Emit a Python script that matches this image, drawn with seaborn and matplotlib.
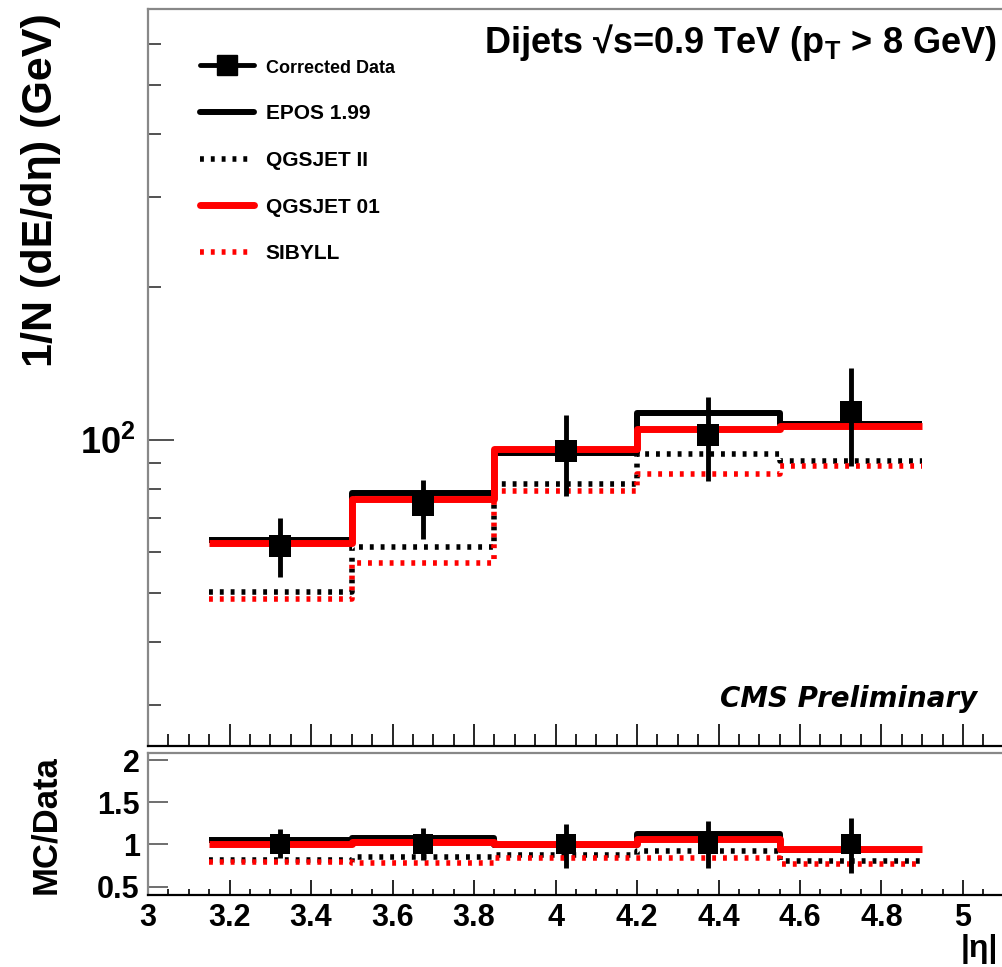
import numpy as np
import pandas as pd
import matplotlib
matplotlib.use("Agg")
import matplotlib.pyplot as plt
import seaborn as sns
from matplotlib.lines import Line2D
from matplotlib.ticker import FixedLocator, NullFormatter, FuncFormatter

# ---------------- data ----------------
bin_edges = [3.15, 3.5, 3.85, 4.2, 4.55, 4.9]
eta_centers = [3.325, 3.675, 4.025, 4.375, 4.725]

data_val = [61.8, 74.3, 95.0, 102.1, 113.5]
data_err_lo = [8.2, 10.6, 17.5, 19.1, 24.8]
data_err_hi = [8.2, 9.2, 17.1, 19.0, 24.8]

epos = [63.6, 78.6, 94.0, 112.7, 107.2]
qgsjet2 = [50.2, 61.5, 82.0, 93.7, 90.9]
qgsjet01 = [62.7, 76.3, 95.7, 105.2, 106.4]
sibyll = [48.7, 57.3, 79.2, 85.8, 88.7]

ratio_data = [1.0, 1.0, 1.0, 1.0, 1.0]
ratio_err_lo = [0.16, 0.18, 0.28, 0.28, 0.34]
ratio_err_hi = [0.18, 0.19, 0.24, 0.28, 0.32]
ratio_epos = [1.05, 1.08, 0.99, 1.13, 0.94]
ratio_qgsjet2 = [0.81, 0.85, 0.88, 0.92, 0.80]
ratio_qgsjet01 = [1.00, 1.03, 1.00, 1.06, 0.95]
ratio_sibyll = [0.79, 0.78, 0.84, 0.84, 0.77]

labels = ["Corrected Data", "EPOS 1.99", "QGSJET II", "QGSJET 01", "SIBYLL"]
xtick_vals = [3.0, 3.2, 3.4, 3.6, 3.8, 4.0, 4.2, 4.4, 4.6, 4.8, 5.0]
ytick_ratio = [0.5, 1.0, 1.5, 2.0]
ytick_main_major = [100]
ytick_main_minor = [30, 40, 50, 60, 70, 80, 90, 200, 300, 400, 500, 600]

# ---------------- style ----------------
sns.set_style("ticks")
plt.rcParams["font.family"] = ["Liberation Sans", "DejaVu Sans"]
plt.rcParams["font.weight"] = "bold"
plt.rcParams["text.color"] = "black"
plt.rcParams["axes.labelcolor"] = "black"
plt.rcParams["xtick.labelcolor"] = "black"
plt.rcParams["ytick.labelcolor"] = "black"
plt.rcParams["mathtext.fontset"] = "custom"
plt.rcParams["mathtext.rm"] = "Liberation Sans:bold"
plt.rcParams["mathtext.bf"] = "Liberation Sans:bold"
plt.rcParams["mathtext.it"] = "Liberation Sans:bold:italic"

W, H = 1002, 967
fig = plt.figure(figsize=(W / 100, H / 100), dpi=100)

def fx(px):
    return px / W

def fy(py):
    return 1 - py / H

left_px, right_px = 148, 1002
ax = fig.add_axes([fx(left_px), fy(745.7), fx(right_px - left_px), (745.7 - 9) / H])
axr = fig.add_axes([fx(left_px), fy(895), fx(right_px - left_px), (895 - 752.7) / H])

XMAX = 3 + (right_px - left_px) / 407.5

DOT = (0, (0.7, 1.25))
styles = [
    dict(color="black", lw=4.3, ls="-"),
    dict(color="black", lw=4.0, ls=DOT),
    dict(color="#ff0000", lw=5.0, ls="-"),
    dict(color="#ff0000", lw=4.0, ls=DOT),
]

def steps(axis, vals, st, z):
    y = list(vals) + [vals[-1]]
    sns.lineplot(x=bin_edges, y=y, ax=axis, drawstyle="steps-post",
                 color=st["color"], linewidth=st["lw"], linestyle=st["ls"],
                 dash_capstyle="butt", solid_capstyle="butt", zorder=z,
                 sort=False, estimator=None, legend=False)

# ---------------- main panel ----------------
ax.set_yscale("log")
for i, (vals, st) in enumerate(zip([epos, qgsjet2, qgsjet01, sibyll], styles)):
    steps(ax, vals, st, 2 + i)
ax.errorbar(eta_centers, data_val, yerr=[data_err_lo, data_err_hi], fmt="none",
            ecolor="black", elinewidth=3.5, capsize=0, zorder=8)
sns.scatterplot(x=eta_centers, y=data_val, ax=ax, marker="s", s=250, color="black",
                linewidth=0, zorder=9, legend=False)

ax.set_xlim(3, XMAX)
ax.set_ylim(25, 704)
ax.yaxis.set_major_locator(FixedLocator(ytick_main_major))
ax.yaxis.set_minor_locator(FixedLocator(ytick_main_minor))
ax.yaxis.set_major_formatter(FuncFormatter(lambda v, p: r"$\mathrm{10^{2}}$"))
ax.yaxis.set_minor_formatter(NullFormatter())
ax.xaxis.set_major_locator(FixedLocator(xtick_vals))
ax.xaxis.set_minor_locator(FixedLocator(np.arange(3.0, 5.1, 0.05)))
ax.tick_params(axis="x", which="both", direction="in", bottom=True, top=False,
               labelbottom=False, color="black", width=1.2)
ax.tick_params(axis="x", which="major", length=15.8)
ax.tick_params(axis="x", which="minor", length=8.6)
ax.tick_params(axis="y", which="both", direction="in", left=True, right=False,
               color="#333333", width=1.2, labelsize=26, pad=9)
ax.tick_params(axis="y", which="major", length=18.7)
ax.tick_params(axis="y", which="minor", length=9.4)
ax.set_xlabel("")
ax.set_ylabel("")
for s in ["left", "top"]:
    ax.spines[s].set_color("#888888")
    ax.spines[s].set_linewidth(1.6)
ax.spines["bottom"].set_color("black")
ax.spines["bottom"].set_linewidth(1.6)
ax.spines["right"].set_visible(False)

# ---------------- ratio panel ----------------
for i, (vals, st) in enumerate(zip([ratio_epos, ratio_qgsjet2, ratio_qgsjet01, ratio_sibyll], styles)):
    steps(axr, vals, st, 2 + i)
axr.errorbar(eta_centers, ratio_data, yerr=[ratio_err_lo, ratio_err_hi], fmt="none",
             ecolor="black", elinewidth=3.5, capsize=0, zorder=8)
sns.scatterplot(x=eta_centers, y=ratio_data, ax=axr, marker="s", s=200, color="black",
                linewidth=0, zorder=9, legend=False)
axr.set_xlim(3, XMAX)
axr.set_ylim(0.4, 2.09)
axr.yaxis.set_major_locator(FixedLocator(ytick_ratio))
axr.yaxis.set_major_formatter(FuncFormatter(lambda v, p: "%g" % v))
axr.xaxis.set_major_locator(FixedLocator(xtick_vals))
axr.xaxis.set_minor_locator(FixedLocator(np.arange(3.0, 5.1, 0.05)))
axr.xaxis.set_major_formatter(FuncFormatter(lambda v, p: "%g" % round(v, 1)))
axr.tick_params(axis="x", which="both", direction="in", bottom=True, top=False,
                color="black", width=1.2, labelsize=22, pad=6)
axr.tick_params(axis="x", which="major", length=10.8)
axr.tick_params(axis="x", which="minor", length=4.3)
axr.tick_params(axis="y", which="both", direction="in", left=True, right=False,
                color="#555555", width=1.2, labelsize=22, pad=6, length=14.4)
axr.set_xlabel("")
axr.set_ylabel("")
for s in ["left", "top"]:
    axr.spines[s].set_color("#888888")
    axr.spines[s].set_linewidth(1.6)
axr.spines["bottom"].set_color("black")
axr.spines["bottom"].set_linewidth(1.6)
axr.spines["right"].set_visible(False)

# ---------------- legend ----------------
handles = [
    (Line2D([], [], color="black", lw=3.5),
     Line2D([], [], color="black", marker="s", ms=15, ls="none")),
    Line2D([], [], color="black", lw=4.3),
    Line2D([], [], color="black", lw=4.0, ls=DOT, dash_capstyle="butt"),
    Line2D([], [], color="#ff0000", lw=5.0),
    Line2D([], [], color="#ff0000", lw=4.0, ls=DOT, dash_capstyle="butt"),
]
leg = ax.legend(handles, labels, loc="upper left",
                bbox_to_anchor=(fx(200), fy(58)), bbox_transform=fig.transFigure,
                frameon=False, handlelength=2.6, handletextpad=0.55,
                labelspacing=1.33, borderpad=0, borderaxespad=0,
                prop={"size": 15, "weight": "bold"})
leg.get_texts()[0].set_fontsize(13)

# ---------------- texts ----------------
fig.text(fx(997), fy(53), "Dijets √s=0.9 TeV (p$_{\\mathrm{T}}$ > 8 GeV)",
         ha="right", va="baseline", fontsize=26, fontweight="bold")
fig.text(fx(977), fy(707), "CMS Preliminary", ha="right", va="baseline",
         fontsize=20, fontweight="bold", fontstyle="italic", family="DejaVu Sans")
fig.text(fx(41), fy(190), "1/N (dE/dη) (GeV)", rotation=90, ha="center", va="center",
         fontsize=31, fontweight="bold")
fig.text(fx(46), fy(825), "MC/Data", rotation=90, ha="center", va="center",
         fontsize=25, fontweight="bold")
fig.text(fx(998), fy(934), "|η|", ha="right", va="top", fontsize=23, fontweight="bold")

fig.savefig("out.png", dpi=100)
